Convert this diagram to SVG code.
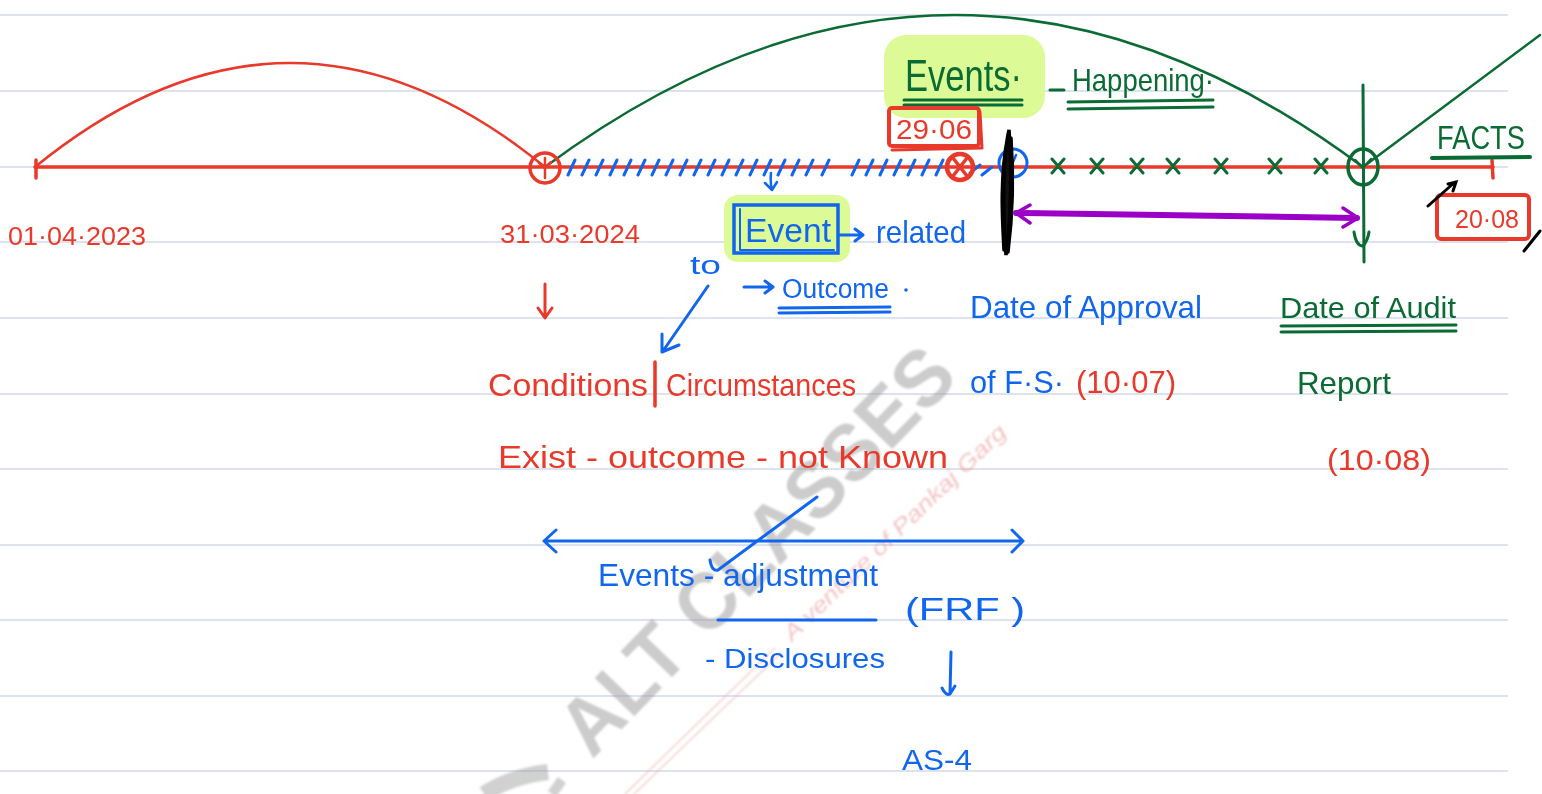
<svg xmlns="http://www.w3.org/2000/svg" width="1542" height="794" viewBox="0 0 1542 794">
  <style>
    .t { font-family: "Liberation Sans", "DejaVu Sans", sans-serif; }
    .red { fill: #e8392b; }
    .blue { fill: #1166ee; }
    .green { fill: #0b6b34; }
    .sr { stroke: #e8392b; fill: none; stroke-linecap: round; stroke-linejoin: round; }
    .sb { stroke: #1166ee; fill: none; stroke-linecap: round; stroke-linejoin: round; }
    .sg { stroke: #0b6b34; fill: none; stroke-linecap: round; stroke-linejoin: round; }
    .rule { stroke: #b9c7de; stroke-width: 1.2; }
    .hl { fill: #dcfb96; }
  </style>
  <defs>
    <filter id="soft" x="-10%" y="-10%" width="120%" height="120%">
      <feGaussianBlur stdDeviation="1.2"/>
    </filter>
  </defs>

  <rect width="1542" height="794" fill="#ffffff"/>

  <!-- ruled notebook lines -->
  <g id="rules">
    <line class="rule" x1="0" y1="15" x2="1508" y2="15"/>
    <line class="rule" x1="0" y1="91" x2="1508" y2="91"/>
    <line class="rule" x1="0" y1="167" x2="1508" y2="167"/>
    <line class="rule" x1="0" y1="242" x2="1508" y2="242"/>
    <line class="rule" x1="0" y1="318" x2="1508" y2="318"/>
    <line class="rule" x1="0" y1="394" x2="1508" y2="394"/>
    <line class="rule" x1="0" y1="469" x2="1508" y2="469"/>
    <line class="rule" x1="0" y1="545" x2="1508" y2="545"/>
    <line class="rule" x1="0" y1="620" x2="1508" y2="620"/>
    <line class="rule" x1="0" y1="696" x2="1508" y2="696"/>
    <line class="rule" x1="0" y1="771" x2="1508" y2="771"/>
  </g>

  <!-- watermark -->
  <g id="watermark" filter="url(#soft)">
    <text class="t" transform="translate(592,760) rotate(-46)" font-size="80" font-weight="bold" fill="#9a9a9a" opacity="0.5" textLength="530" lengthAdjust="spacingAndGlyphs">ALT CLASSES</text>
    <path d="M484 794 Q512 776 548 772" stroke="#9a9a9a" stroke-width="16" opacity="0.45" fill="none"/>
    <path d="M552 794 L562 780" stroke="#9a9a9a" stroke-width="10" opacity="0.45" fill="none"/>
    <text class="t" transform="translate(792,642) rotate(-44)" font-size="22" font-style="italic" fill="#ee9a9a" opacity="0.6" textLength="300" lengthAdjust="spacingAndGlyphs">A venture of Pankaj Garg</text>
    <path d="M625 794 L775 648 M634 794 L782 652" stroke="#f0b0b0" stroke-width="1.2" opacity="0.7" fill="none"/>
  </g>

  <!-- highlights -->
  <rect class="hl" x="884" y="35" width="161" height="83" rx="22"/>
  <rect class="hl" x="724" y="195" width="126" height="67" rx="14"/>

  <!-- arcs over the timeline -->
  <g id="arcs">
    <path class="sr" d="M35 167 Q290 -41 545 167" stroke-width="2.5"/>
    <path class="sg" d="M545 167 Q955 -137 1363 167" stroke-width="2.5"/>
    <path class="sg" d="M1363 167 L1540 35" stroke-width="2.5"/>
  </g>

  <!-- main timeline -->
  <g id="timeline">
    <line class="sr" x1="35" y1="167" x2="1493" y2="167" stroke-width="3.5"/>
    <line class="sr" x1="36" y1="160" x2="36" y2="178" stroke-width="3.5"/>
    <line class="sr" x1="1492" y1="160" x2="1493" y2="178" stroke-width="3.5"/>
    <!-- hatched period -->
    <path class="sb" stroke-width="3" d="M568 175 l7 -15 M582 175 l7 -15 M596 175 l7 -15 M610 175 l7 -15 M624 175 l7 -15 M638 175 l7 -15 M652 175 l7 -15 M666 175 l7 -15 M680 175 l7 -15 M694 175 l7 -15 M708 175 l7 -15 M722 175 l7 -15 M736 175 l7 -15 M750 175 l7 -15 M764 175 l7 -15 M778 175 l7 -15 M792 175 l7 -15 M806 175 l7 -15 M822 175 l7 -15 M852 175 l7 -15 M866 175 l7 -15 M880 175 l7 -15 M894 175 l7 -15 M908 175 l7 -15 M922 175 l7 -15 M936 175 l7 -15 M970 173 l10 -8 M982 175 l10 -8"/>
    <!-- 31.03.2024 marker -->
    <circle class="sr" cx="545" cy="168" r="15" stroke-width="3.5"/>
    <path class="sr" d="M545 158 L545 178 M539 163 L545 168 L551 162" stroke-width="2.5"/>
    <!-- 29.06 marker -->
    <circle class="sr" cx="960" cy="167" r="13" stroke-width="4.5"/>
    <path class="sr" d="M953 158 L967 176 M967 158 L953 176" stroke-width="3.5"/>
    <!-- approval marker -->
    <circle class="sb" cx="1013" cy="163" r="14" stroke-width="3"/>
    <path class="sb" d="M1007 157 l3 6 M1016 155 l-3 7" stroke-width="2.5"/>
    <!-- events after the reporting date -->
    <path class="sg" stroke-width="3" d="M1052 159 l12 14 M1064 159 l-12 14 M1091 159 l12 14 M1103 159 l-12 14 M1131 159 l12 14 M1143 159 l-12 14 M1167 159 l12 14 M1179 159 l-12 14 M1215 159 l12 14 M1227 159 l-12 14 M1269 159 l12 14 M1281 159 l-12 14 M1315 159 l12 14 M1327 159 l-12 14"/>
    <!-- audit report marker -->
    <line class="sg" x1="1363" y1="85" x2="1364" y2="262" stroke-width="3"/>
    <ellipse class="sg" cx="1363" cy="167" rx="15" ry="18" stroke-width="3.5"/>
    <path class="sg" d="M1355 160 L1363 168 L1371 159" stroke-width="2.5"/>
    <path class="sg" d="M1354 232 Q1356 246 1363 246 Q1368 240 1369 232" stroke-width="3"/>
    <!-- black boundary scribble -->
    <path d="M1009 130 C1002 160 1003 220 1006 255 C1011 225 1012 165 1009 130 Z M1008 135 C1000 175 1002 215 1004 250 M1011 138 C1014 180 1012 220 1008 252" stroke="#000" stroke-width="3.5" fill="#111" stroke-linecap="round"/>
    <!-- purple span arrow -->
    <path d="M1016 213 L1357 218" stroke="#9b00c6" stroke-width="6" fill="none" stroke-linecap="round"/>
    <path d="M1030 205 L1016 213 L1030 223 M1343 208 L1358 218 L1343 227" stroke="#9b00c6" stroke-width="3.5" fill="none" stroke-linecap="round" stroke-linejoin="round"/>
  </g>

  <!-- dates on the timeline -->
  <g id="dates">
    <text class="t red" x="8" y="245" font-size="26" textLength="138" lengthAdjust="spacingAndGlyphs">01·04·2023</text>
    <text class="t red" x="500" y="243" font-size="26" textLength="140" lengthAdjust="spacingAndGlyphs">31·03·2024</text>
  </g>

  <!-- Events heading -->
  <g id="events-heading">
    <text class="t green" x="905" y="91" font-size="44" textLength="117" lengthAdjust="spacingAndGlyphs">Events·</text>
    <path class="sg" d="M904 100 L1022 100 M904 105 L1022 105" stroke-width="3"/>
    <path class="sg" d="M1050 90 L1064 90" stroke-width="3"/>
    <text class="t green" x="1072" y="91" font-size="32" textLength="142" lengthAdjust="spacingAndGlyphs">Happening·</text>
    <path class="sg" d="M1068 102 L1213 100 M1068 109 L1213 107" stroke-width="3"/>
  </g>

  <!-- 29.06 box -->
  <g id="d2906">
    <rect x="889" y="108" width="90" height="38" fill="none" stroke="#e8392b" stroke-width="4" rx="3"/>
    <path class="sr" d="M892 150 L982 148 L980 112" stroke-width="3"/>
    <text class="t red" x="896" y="139" font-size="27" textLength="76" lengthAdjust="spacingAndGlyphs">29·06</text>
  </g>

  <!-- FACTS / 20.08 -->
  <g id="facts">
    <text class="t green" x="1437" y="149" font-size="34" textLength="88" lengthAdjust="spacingAndGlyphs">FACTS</text>
    <line class="sg" x1="1432" y1="158" x2="1530" y2="157" stroke-width="4"/>
    <rect x="1437" y="195" width="92" height="44" fill="none" stroke="#e8392b" stroke-width="4" rx="4"/>
    <text class="t red" x="1455" y="228" font-size="26" textLength="64" lengthAdjust="spacingAndGlyphs">20·08</text>
    <path d="M1428 206 L1455 182 M1448 184 L1456 182 L1453 191 M1524 251 L1540 231" stroke="#000" stroke-width="3" fill="none" stroke-linecap="round"/>
  </g>

  <!-- Event box -->
  <g id="event">
    <path class="sb" d="M771 173 Q770 182 772 190 M765 183 L772 190 L777 182" stroke-width="2.5"/>
    <rect x="734" y="205" width="104" height="48" fill="none" stroke="#1166ee" stroke-width="3.5"/>
    <path class="sb" d="M740 209 L740 250 L834 250" stroke-width="2"/>
    <text class="t blue" x="745" y="242" font-size="34" textLength="86" lengthAdjust="spacingAndGlyphs">Event</text>
    <path class="sb" d="M840 235 L862 235 M855 229 L863 235 L855 241" stroke-width="3"/>
    <text class="t blue" x="876" y="243" font-size="32" textLength="90" lengthAdjust="spacingAndGlyphs">related</text>
    <text class="t blue" x="690" y="274" font-size="26" textLength="31" lengthAdjust="spacingAndGlyphs">to</text>
    <path class="sb" d="M744 287 L772 287 M765 281 L773 287 L765 293" stroke-width="3"/>
    <text class="t blue" x="782" y="298" font-size="27" textLength="107" lengthAdjust="spacingAndGlyphs">Outcome</text>
    <circle cx="906" cy="290" r="1.8" fill="#1166ee"/>
    <path class="sb" d="M779 308 L890 307 M779 313 L890 312" stroke-width="3"/>
    <path class="sb" d="M708 286 L663 351 M662 334 L662 352 L679 345" stroke-width="3"/>
  </g>

  <!-- conditions existing at the balance sheet date -->
  <g id="conditions">
    <path class="sr" d="M545 284 L545 317 M538 308 L545 318 L552 308" stroke-width="3"/>
    <text class="t red" x="488" y="396" font-size="32" textLength="160" lengthAdjust="spacingAndGlyphs">Conditions</text>
    <line class="sr" x1="655" y1="362" x2="655" y2="406" stroke-width="3.5"/>
    <text class="t red" x="666" y="396" font-size="32" textLength="190" lengthAdjust="spacingAndGlyphs">Circumstances</text>
    <text class="t red" x="498" y="468" font-size="32" textLength="450" lengthAdjust="spacingAndGlyphs">Exist -  outcome - not Known</text>
  </g>

  <!-- approval of financial statements -->
  <g id="approval">
    <text class="t blue" x="970" y="318" font-size="32" textLength="232" lengthAdjust="spacingAndGlyphs">Date of Approval</text>
    <text class="t blue" x="970" y="393" font-size="32" textLength="94" lengthAdjust="spacingAndGlyphs">of F·S·</text>
    <text class="t red" x="1076" y="393" font-size="32" textLength="100" lengthAdjust="spacingAndGlyphs">(10·07)</text>
  </g>

  <!-- audit report -->
  <g id="audit">
    <text class="t green" x="1280" y="318" font-size="30" textLength="176" lengthAdjust="spacingAndGlyphs">Date of Audit</text>
    <path class="sg" d="M1281 326 L1456 325 M1281 332 L1456 331" stroke-width="3"/>
    <text class="t green" x="1297" y="394" font-size="32" textLength="94" lengthAdjust="spacingAndGlyphs">Report</text>
    <text class="t red" x="1327" y="470" font-size="30" textLength="104" lengthAdjust="spacingAndGlyphs">(10·08)</text>
  </g>

  <!-- events after the reporting period -->
  <g id="as4">
    <path class="sb" d="M544 541 L1023 541 M556 530 L544 541 L556 552 M1012 530 L1023 541 L1012 552" stroke-width="3"/>
    <path class="sb" d="M817 497 L718 570 Q712 572 710 560" stroke-width="3"/>
    <text class="t blue" x="598" y="586" font-size="32" textLength="280" lengthAdjust="spacingAndGlyphs">Events - adjustment</text>
    <line class="sb" x1="718" y1="620" x2="876" y2="620" stroke-width="3"/>
    <text class="t blue" x="905" y="620" font-size="32" textLength="120" lengthAdjust="spacingAndGlyphs">(FRF  )</text>
    <text class="t blue" x="705" y="668" font-size="28" textLength="180" lengthAdjust="spacingAndGlyphs">- Disclosures</text>
    <path class="sb" d="M951 652 L950 694 M942 688 Q946 696 950 694 L955 686" stroke-width="3"/>
    <text class="t blue" x="902" y="770" font-size="30" textLength="70" lengthAdjust="spacingAndGlyphs">AS-4</text>
  </g>
</svg>
